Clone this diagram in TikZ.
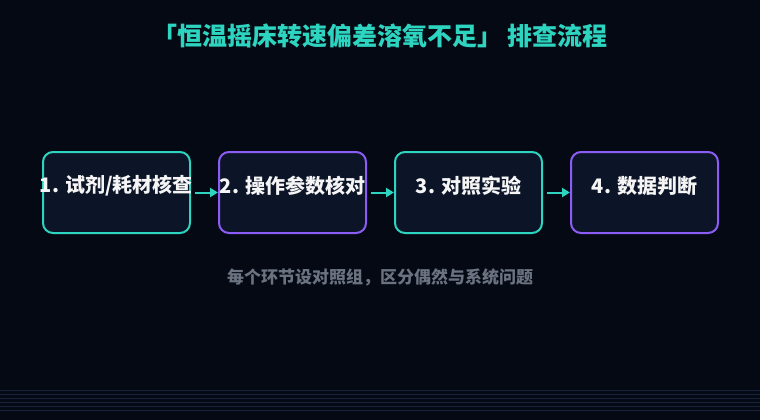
\documentclass[tikz,border=0pt]{standalone}
\usepackage{fontspec}
\usepackage{tikz}
\usetikzlibrary{positioning,arrows.meta}
\setmainfont{Noto Sans CJK SC}
\definecolor{bgdark}{HTML}{050914}
\definecolor{boxfill}{HTML}{0C1528}
\definecolor{tealline}{HTML}{2DD4BF}
\definecolor{purpleline}{HTML}{8B5CF6}
\definecolor{subgray}{HTML}{6B7280}
\definecolor{stripe}{HTML}{16233A}

\begin{document}
\begin{tikzpicture}[x=1pt,y=1pt]
\tikzstyle{stepbox}=[rectangle, rounded corners=10pt, line width=2pt, fill=boxfill, minimum width=147pt, minimum height=81pt, node distance=27pt]
\tikzstyle{steplabel}=[yshift=7pt, text=white!92!gray, font=\bfseries\fontsize{20}{24}\selectfont]
\tikzstyle{connect}=[-{Triangle[length=8pt,width=9pt]}, line width=2pt, draw=tealline, shorten <=4pt]
  \fill[bgdark] (0,0) rectangle (760,-420);
  \useasboundingbox (0,0) rectangle (760,-420);
  % title and note
  \node[text=tealline, font=\bfseries\fontsize{25}{30}\selectfont] (title) at (380,-36) {「恒温摇床转速偏差溶氧不足」 排查流程};
  \node[text=subgray, font=\bfseries\fontsize{17}{20}\selectfont] (note) at (380,-277) {每个环节设对照组，区分偶然与系统问题};
  % steps
  \node[stepbox, draw=tealline, label={[steplabel]center:1. 试剂/耗材核查}] (s1) at (116.5,-192.5) {};
  \node[stepbox, draw=purpleline, right=of s1, label={[steplabel]center:2. 操作参数核对}] (s2) {};
  \node[stepbox, draw=tealline, right=of s2, label={[steplabel]center:3. 对照实验}] (s3) {};
  \node[stepbox, draw=purpleline, right=of s3, label={[steplabel]center:4. 数据判断}] (s4) {};
  \path (s1) edge [connect] (s2)
        (s2) edge [connect] (s3)
        (s3) edge [connect] (s4);
  % stripes at the bottom
  \foreach \y in {390.3,394.3,...,410.3}
    \draw[stripe, line width=0.8pt] (0,-\y) -- (760,-\y);
\end{tikzpicture}
\end{document}
